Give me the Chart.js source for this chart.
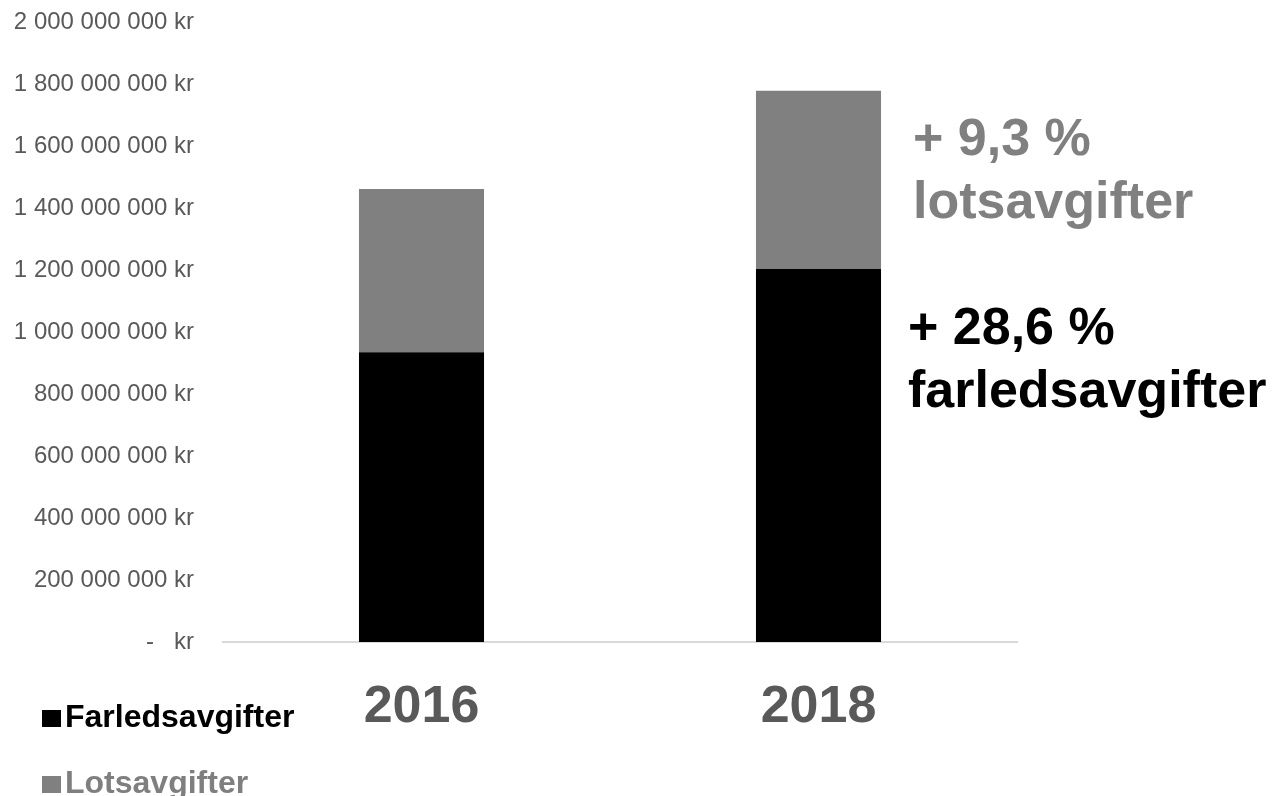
<!DOCTYPE html>
<html>
<head>
<meta charset="utf-8">
<script src="https://cdn.jsdelivr.net/npm/chart.js@4.4.1/dist/chart.umd.min.js"></script>
<style>
    body { margin: 0; background: #fff; }
    #wrap { width: 1284px; height: 796px; position: relative; }
</style>
</head>
<body>
<div id="wrap"><canvas id="avgiftChart"></canvas></div>
<script>
// Data lest av bildet
const years = ['2016', '2018'];
const farledsavgifter = [935000000, 1203000000];
const lotsavgifter = [526000000, 575000000];
const seriesNames = ['Farledsavgifter', 'Lotsavgifter'];
const seriesColors = ['#000000', '#808080'];
const yTicks = [0, 200000000, 400000000, 600000000, 800000000, 1000000000,
    1200000000, 1400000000, 1600000000, 1800000000, 2000000000];
const lotsNote = ['+ 9,3 %', 'lotsavgifter'];
const farledNote = ['+ 28,6 %', 'farledsavgifter'];

const FONT = '"Liberation Sans", Arial, sans-serif';

function formatKr(v) {
    if (v === 0) return '-   kr';
    return String(v).replace(/\B(?=(\d{3})+(?!\d))/g, ' ') + ' kr';
}

// Tegner legende og kommentarene til høyre
const extrasPlugin = {
    id: 'extras',
    afterDraw(chart) {
        const ctx = chart.ctx;
        ctx.save();
        ctx.textBaseline = 'alphabetic';
        ctx.textAlign = 'left';

        // legende nederst til venstre
        const legendBase = [727, 793];
        const legendText = ['#000000', '#7f7f7f'];
        ctx.font = 'bold 32px ' + FONT;
        seriesNames.forEach((name, i) => {
            ctx.fillStyle = seriesColors[i];
            ctx.fillRect(42, legendBase[i] - 17, 19, 17);
            ctx.fillStyle = legendText[i];
            ctx.fillText(name, 65, legendBase[i]);
        });

        // kommentarer
        ctx.font = 'bold 52px ' + FONT;
        ctx.fillStyle = '#808080';
        ctx.fillText(lotsNote[0], 913, 155);
        ctx.fillText(lotsNote[1], 913, 218);
        ctx.fillStyle = '#000000';
        ctx.fillText(farledNote[0], 908, 344);
        ctx.fillText(farledNote[1], 908, 407);
        ctx.restore();
    }
};

const ctx = document.getElementById('avgiftChart').getContext('2d');
window.myChart = new Chart(ctx, {
    type: 'bar',
    data: {
        labels: years,
        datasets: [
            {
                label: seriesNames[0],
                data: farledsavgifter,
                backgroundColor: seriesColors[0],
                borderWidth: 0
            },
            {
                label: seriesNames[1],
                data: lotsavgifter,
                backgroundColor: seriesColors[1],
                borderWidth: 0
            }
        ]
    },
    options: {
        responsive: true,
        maintainAspectRatio: false,
        animation: false,
        layout: { padding: { top: 22, right: 267, bottom: 0, left: 0 } },
        plugins: {
            legend: { display: false },
            tooltip: { enabled: false }
        },
        datasets: {
            bar: { categoryPercentage: 1, barPercentage: 0.315 }
        },
        scales: {
            x: {
                stacked: true,
                grid: { display: false, drawTicks: false },
                border: { display: true, color: '#d9d9d9', width: 2 },
                ticks: {
                    color: '#595959',
                    padding: 34,
                    font: { family: FONT, size: 52, weight: 'bold' }
                },
                afterFit(axis) { axis.height = 154; }
            },
            y: {
                stacked: true,
                min: 0,
                max: 2000000000,
                // tick-lengden brukes som avstand mellom tekst og akse
                grid: { display: false, drawTicks: true, tickLength: 29 },
                border: { display: false },
                afterBuildTicks(axis) {
                    axis.ticks = yTicks.map(v => ({ value: v }));
                },
                ticks: {
                    color: '#595959',
                    padding: 0,
                    font: { family: FONT, size: 24 },
                    callback: (v) => formatKr(v)
                },
                afterFit(axis) { axis.width = 223; }
            }
        }
    },
    plugins: [extrasPlugin]
});
</script>
</body>
</html>
